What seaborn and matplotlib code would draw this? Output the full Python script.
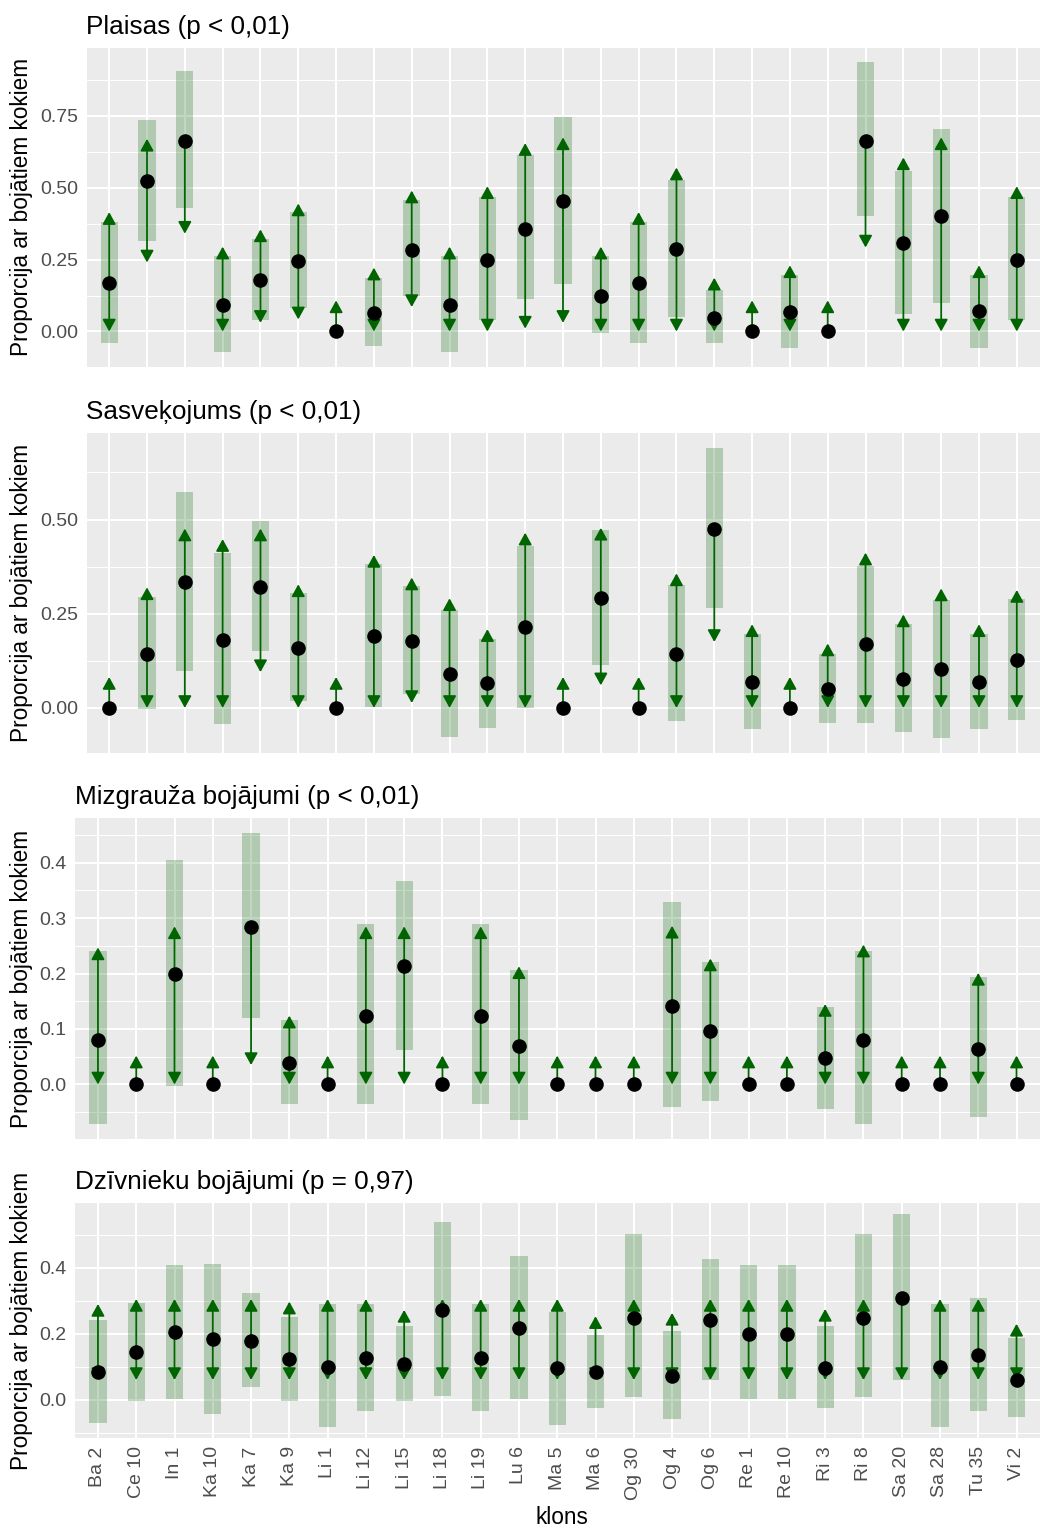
import numpy as np
import pandas as pd
import matplotlib
matplotlib.use("Agg")
import matplotlib.pyplot as plt
import seaborn as sns
from matplotlib.ticker import FixedLocator, FormatStrFormatter

# ---------------- data ----------------
clones = ["Ba 2", "Ce 10", "In 1", "Ka 10", "Ka 7", "Ka 9", "Li 1", "Li 12", "Li 15",
          "Li 18", "Li 19", "Lu 6", "Ma 5", "Ma 6", "Og 30", "Og 4", "Og 6", "Re 1",
          "Re 10", "Ri 3", "Ri 8", "Sa 20", "Sa 28", "Tu 35", "Vi 2"]

titles = ["Plaisas (p < 0,01)", "Sasveķojums (p < 0,01)",
          "Mizgrauža bojājumi (p < 0,01)", "Dzīvnieku bojājumi (p = 0,97)"]

# Panel 1: Plaisas
plaisas_point = [0.167, 0.525, 0.664, 0.092, 0.179, 0.245, 0.0, 0.066, 0.285, 0.092, 0.248, 0.357,
                 0.454, 0.125, 0.167, 0.287, 0.048, 0.0, 0.069, 0.0, 0.664, 0.308, 0.400, 0.070, 0.249]
plaisas_arrow_lo = [0.0, 0.240, 0.340, 0.0, 0.030, 0.042, 0.0, 0.0, 0.085, 0.0, 0.0, 0.010,
                    0.030, 0.0, 0.0, 0.0, 0.0, 0.0, 0.0, 0.0, 0.292, 0.0, 0.0, 0.0, 0.0]
plaisas_arrow_hi = [0.415, 0.670, 0.664, 0.295, 0.355, 0.445, 0.108, 0.222, 0.490, 0.295, 0.505, 0.655,
                    0.675, 0.295, 0.415, 0.570, 0.187, 0.108, 0.230, 0.108, 0.664, 0.605, 0.675, 0.230, 0.505]
plaisas_band_lo = [-0.040, 0.316, 0.429, -0.073, 0.040, 0.080, 0.0, -0.050, 0.123, -0.073, 0.040, 0.112,
                   0.166, -0.005, -0.040, 0.052, -0.040, 0.0, -0.057, 0.0, 0.403, 0.062, 0.100, -0.057, 0.040]
plaisas_band_hi = [0.380, 0.737, 0.905, 0.262, 0.322, 0.414, 0.0, 0.187, 0.456, 0.262, 0.467, 0.612,
                   0.747, 0.262, 0.380, 0.527, 0.144, 0.0, 0.197, 0.0, 0.937, 0.559, 0.705, 0.197, 0.467]

# Panel 2: Sasveķojums
sasv_point = [0.0, 0.142, 0.333, 0.181, 0.321, 0.159, 0.0, 0.190, 0.177, 0.089, 0.065, 0.215,
              0.0, 0.293, 0.0, 0.142, 0.475, 0.069, 0.0, 0.049, 0.169, 0.078, 0.103, 0.069, 0.128]
sasv_arrow_lo = [0.0, 0.0, 0.0, 0.0, 0.095, 0.0, 0.0, 0.0, 0.013, 0.0, 0.0, 0.0,
                 0.0, 0.060, 0.0, 0.0, 0.175, 0.0, 0.0, 0.0, 0.0, 0.0, 0.0, 0.0, 0.0]
sasv_arrow_hi = [0.082, 0.320, 0.476, 0.448, 0.476, 0.328, 0.082, 0.406, 0.346, 0.291, 0.209, 0.465,
                 0.082, 0.478, 0.082, 0.357, 0.475, 0.222, 0.082, 0.171, 0.412, 0.248, 0.317, 0.222, 0.313]
sasv_band_lo = [0.0, -0.002, 0.097, -0.043, 0.151, 0.019, 0.0, 0.003, 0.038, -0.077, -0.052, 0.0,
                0.0, 0.113, 0.0, -0.035, 0.266, -0.057, 0.0, -0.040, -0.040, -0.065, -0.081, -0.057, -0.031]
sasv_band_hi = [0.0, 0.295, 0.573, 0.410, 0.496, 0.306, 0.0, 0.381, 0.323, 0.261, 0.182, 0.431,
                0.0, 0.472, 0.0, 0.327, 0.691, 0.195, 0.0, 0.142, 0.377, 0.224, 0.286, 0.195, 0.290]

# Panel 3: Mizgrauža bojājumi
mizg_point = [0.081, 0.0, 0.200, 0.0, 0.284, 0.039, 0.0, 0.123, 0.214, 0.0, 0.123, 0.070,
              0.0, 0.0, 0.0, 0.141, 0.096, 0.0, 0.0, 0.048, 0.081, 0.0, 0.0, 0.064, 0.0]
mizg_arrow_lo = [0.0, 0.0, 0.0, 0.0, 0.035, 0.0, 0.0, 0.0, 0.0, 0.0, 0.0, 0.0,
                 0.0, 0.0, 0.0, 0.0, 0.0, 0.0, 0.0, 0.0, 0.0, 0.0, 0.0, 0.0, 0.0]
mizg_arrow_hi = [0.247, 0.052, 0.285, 0.052, 0.284, 0.124, 0.052, 0.285, 0.285, 0.052, 0.285, 0.213,
                 0.052, 0.052, 0.052, 0.286, 0.227, 0.052, 0.052, 0.145, 0.252, 0.052, 0.052, 0.201, 0.052]
mizg_band_lo = [-0.072, 0.0, -0.002, 0.0, 0.120, -0.035, 0.0, -0.035, 0.063, 0.0, -0.035, -0.064,
                0.0, 0.0, 0.0, -0.041, -0.030, 0.0, 0.0, -0.044, -0.072, 0.0, 0.0, -0.058, 0.0]
mizg_band_hi = [0.240, 0.0, 0.404, 0.0, 0.454, 0.117, 0.0, 0.289, 0.367, 0.0, 0.289, 0.206,
                0.0, 0.0, 0.0, 0.328, 0.221, 0.0, 0.0, 0.140, 0.240, 0.0, 0.0, 0.193, 0.0]

# Panel 4: Dzīvnieku bojājumi
dzivn_point = [0.085, 0.146, 0.204, 0.183, 0.178, 0.123, 0.099, 0.128, 0.108, 0.273, 0.128, 0.217,
               0.095, 0.085, 0.249, 0.071, 0.241, 0.200, 0.200, 0.095, 0.249, 0.309, 0.099, 0.136, 0.061]
dzivn_arrow_lo = [0.060, 0.060, 0.060, 0.060, 0.060, 0.060, 0.060, 0.060, 0.060, 0.060, 0.060, 0.060,
                  0.060, 0.060, 0.060, 0.060, 0.060, 0.060, 0.060, 0.060, 0.060, 0.060, 0.060, 0.060, 0.060]
dzivn_arrow_hi = [0.290, 0.305, 0.305, 0.305, 0.305, 0.297, 0.305, 0.305, 0.272, 0.305, 0.305, 0.305,
                  0.305, 0.253, 0.305, 0.263, 0.305, 0.305, 0.305, 0.275, 0.305, 0.309, 0.305, 0.305, 0.230]
dzivn_band_lo = [-0.069, -0.003, 0.003, -0.044, 0.040, -0.002, -0.083, -0.035, -0.002, 0.012, -0.035, 0.003,
                 -0.077, -0.026, 0.008, -0.058, 0.059, 0.003, 0.003, -0.025, 0.008, 0.059, -0.083, -0.035, -0.053]
dzivn_band_hi = [0.242, 0.294, 0.407, 0.412, 0.322, 0.252, 0.289, 0.289, 0.224, 0.539, 0.289, 0.435,
                 0.267, 0.195, 0.501, 0.209, 0.425, 0.407, 0.407, 0.222, 0.501, 0.563, 0.289, 0.307, 0.186]

y_breaks = [[0.0, 0.25, 0.50, 0.75], [0.0, 0.25, 0.50],
            [0.0, 0.1, 0.2, 0.3, 0.4], [0.0, 0.2, 0.4]]
y_formats = ["%.2f", "%.2f", "%.1f", "%.1f"]

# ---------------- layout / style ----------------
W, H = 1040, 1528
# (left, top, bottom) of each plot panel, in pixels
boxes = [(86.5, 47.5, 367), (86.5, 433, 753), (75, 818, 1139), (75, 1203, 1438)]
RIGHT = 1039.5

GREEN = "#006400"
sns.set_theme(style="darkgrid")
plt.rcParams['font.family'] = ['Liberation Sans', 'DejaVu Sans']

fig = plt.figure(figsize=(W / 100, H / 100), dpi=100)

panel_data = [
    (plaisas_point, plaisas_arrow_lo, plaisas_arrow_hi, plaisas_band_lo, plaisas_band_hi),
    (sasv_point, sasv_arrow_lo, sasv_arrow_hi, sasv_band_lo, sasv_band_hi),
    (mizg_point, mizg_arrow_lo, mizg_arrow_hi, mizg_band_lo, mizg_band_hi),
    (dzivn_point, dzivn_arrow_lo, dzivn_arrow_hi, dzivn_band_lo, dzivn_band_hi),
]

for k, (title, (pt, alo, ahi, blo, bhi)) in enumerate(zip(titles, panel_data)):
    left, top, bottom = boxes[k]
    ax = fig.add_axes([left / W, 1 - bottom / H, (RIGHT - left) / W, (bottom - top) / H])
    ax.set_facecolor("#EBEBEB")

    df = pd.DataFrame({"klons": clones, "prop": pt, "alo": alo, "ahi": ahi,
                       "blo": blo, "bhi": bhi})
    xs = np.arange(len(clones))

    # shaded interval bands
    ax.bar(xs, df["bhi"] - df["blo"], bottom=df["blo"], width=0.45,
           color=GREEN, alpha=0.25, linewidth=0, zorder=2)

    # arrows from the point to upper / lower limit
    astyle = "-|>,head_length=0.4,head_width=0.22"
    for i in range(len(clones)):
        p = df["prop"][i]
        for end in (df["ahi"][i], df["alo"][i]):
            if abs(end - p) > 1e-9:
                ax.annotate("", xy=(i, end), xytext=(i, p),
                            arrowprops=dict(arrowstyle=astyle, mutation_scale=18,
                                            color=GREEN, lw=1.3, shrinkA=0, shrinkB=0),
                            zorder=3)

    # points
    sns.stripplot(data=df, x="klons", y="prop", order=clones, jitter=False,
                  color="black", size=10.5, linewidth=0, ax=ax, zorder=4)

    # limits (ggplot-like 5% expansion)
    lo = min(df[["prop", "alo", "blo"]].min())
    hi = max(df[["prop", "ahi", "bhi"]].max())
    pad = 0.05 * (hi - lo)
    ax.set_ylim(lo - pad, hi + pad)
    ax.set_xlim(-0.6, len(clones) - 0.4)

    # grid
    br = y_breaks[k]
    step = br[1] - br[0]
    minors = [b + step / 2 for b in [br[0] - step] + br]
    ax.yaxis.set_major_locator(FixedLocator(br))
    ax.yaxis.set_minor_locator(FixedLocator(minors))
    ax.yaxis.set_major_formatter(FormatStrFormatter(y_formats[k]))
    ax.grid(which="major", axis="both", color="white", linewidth=1.5)
    ax.grid(which="minor", axis="y", color="white", linewidth=0.75)
    ax.xaxis.grid(True, which="major", color="white", linewidth=1.5)
    ax.set_axisbelow(True)
    for s in ax.spines.values():
        s.set_visible(False)

    ax.tick_params(axis="y", which="major", length=4, width=1.1, color="#333333",
                   labelsize=14, labelcolor="#4D4D4D", pad=2)
    ax.tick_params(axis="y", which="minor", length=0)
    ax.set_ylabel("")
    ax.set_xlabel("")
    if k < 3:
        ax.tick_params(axis="x", length=0, labelbottom=False)
    else:
        ax.tick_params(axis="x", length=4, width=1.1, color="#333333",
                       labelsize=14, labelcolor="#4D4D4D", pad=2, labelrotation=90)

    ax.set_title(title, loc="left", fontsize=18.8, pad=10, color="black")

    fig.text(22 / W, 1 - ((top + bottom) / 2) / H, "Proporcija ar bojātiem kokiem",
             rotation=90, ha="center", va="center", fontsize=16.3, color="black")

fig.text(562 / W, 1 - 1518 / H, "klons", ha="center", va="center", fontsize=16.3, color="black")

fig.savefig("out.png", dpi=100, facecolor="white")
